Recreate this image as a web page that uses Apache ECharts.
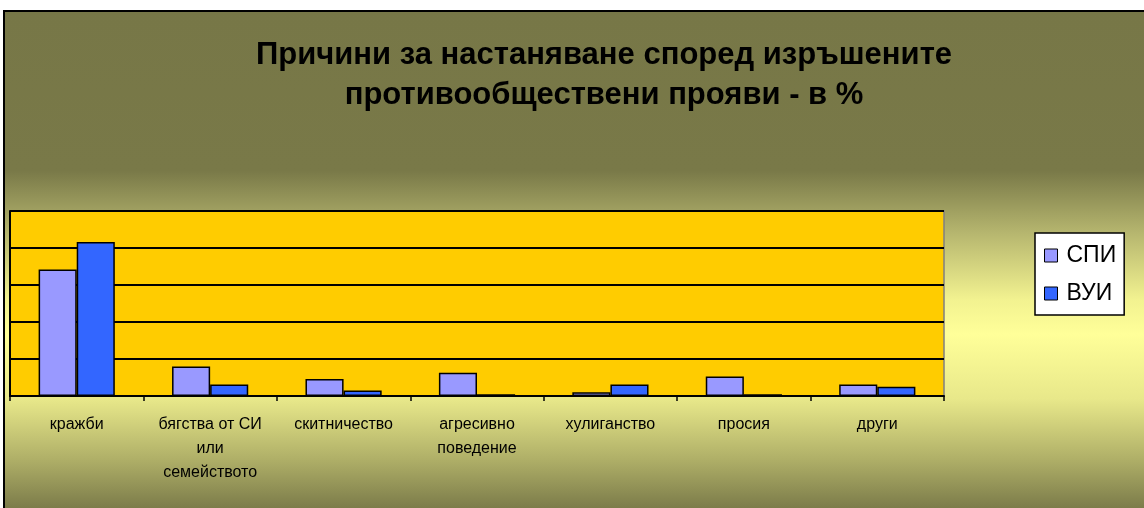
<!DOCTYPE html>
<html>
<head>
<meta charset="utf-8">
<script src="https://cdn.jsdelivr.net/npm/echarts@6/dist/echarts.min.js"></script>
<style>
  html, body { margin: 0; padding: 0; background: #ffffff; width: 1144px; height: 508px; overflow: hidden; }
  #frame {
    position: absolute; left: 3px; top: 10px; width: 1141px; height: 498px;
    border-top: 2px solid #000; border-left: 2px solid #000; box-sizing: border-box;
    background: linear-gradient(to bottom,
      #777747 0%, #797948 32%, #b8b870 45%, #f2f290 58%, #ffff99 65%,
      #e8e88a 78%, #b0b068 90%, #7c7c4a 100%);
  }
  #chart { position: absolute; left: 0; top: 0; width: 1144px; height: 508px; }
</style>
</head>
<body>
<div id="frame"></div>
<div id="chart"></div>
<script>
const categories = ['кражби', 'бягства от СИ\nили\nсемейството', 'скитничество', 'агресивно\nповедение', 'хулиганство', 'просия', 'други'];
const seriesNames = ['СПИ', 'ВУИ'];
const spiValues = [34.2, 8.0, 4.6, 6.3, 1.0, 5.3, 3.1];
const vuiValues = [41.6, 3.1, 1.5, 0.5, 3.1, 0.5, 2.5];
const yMin = 0, yMax = 50, yInterval = 10;

const chart = echarts.init(document.getElementById('chart'), null, { renderer: 'canvas' });
const font = '"Liberation Sans", Arial, sans-serif';
chart.setOption({
  backgroundColor: 'transparent',
  animation: false,
  title: {
    text: 'Причини за настаняване според изръшените\nпротивообществени прояви - в %',
    left: 599, top: 30, textAlign: 'center',
    textStyle: { fontFamily: font, fontWeight: 'bold', fontSize: 31, color: '#000', lineHeight: 40 }
  },
  legend: {
    orient: 'vertical', left: 1035, top: 233,
    backgroundColor: '#ffffff', borderColor: '#000', borderWidth: 1.5,
    padding: [11, 8, 10, 9], itemGap: 15,
    itemWidth: 13, itemHeight: 13, icon: 'rect',
    textStyle: { fontFamily: font, fontSize: 23, color: '#000', padding: [0, 0, 0, 4] },
    itemStyle: { borderColor: '#000', borderWidth: 1 },
    data: seriesNames
  },
  grid: {
    left: 10, right: 200, top: 211, bottom: 112,
    show: true, backgroundColor: '#FFCC00', borderColor: '#808080', borderWidth: 1.5
  },
  xAxis: {
    type: 'category', data: categories,
    axisLine: { lineStyle: { color: '#000', width: 2 } },
    axisTick: { show: true, length: 5, lineStyle: { color: '#000', width: 1.5 } },
    axisLabel: { fontFamily: font, fontSize: 16, color: '#000', margin: 17, lineHeight: 24, interval: 0 }
  },
  yAxis: {
    type: 'value', min: yMin, max: yMax, interval: yInterval,
    axisLine: { show: true, lineStyle: { color: '#000', width: 2 } },
    axisTick: { show: false },
    axisLabel: { show: false },
    splitLine: { show: true, lineStyle: { color: '#000', width: 2 } }
  },
  series: [
    { name: seriesNames[0], type: 'bar', data: spiValues, barGap: '0%', barCategoryGap: '42.9%',
      itemStyle: { color: '#9999FF', borderColor: '#000', borderWidth: 1.5 } },
    { name: seriesNames[1], type: 'bar', data: vuiValues, barGap: '0%', barCategoryGap: '42.9%',
      itemStyle: { color: '#3366FF', borderColor: '#000', borderWidth: 1.5 } }
  ]
});
</script>
</body>
</html>
